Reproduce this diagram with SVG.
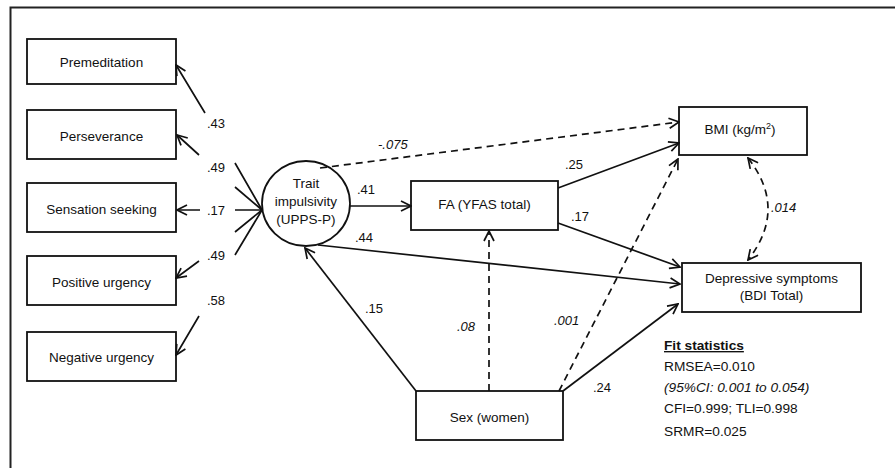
<svg xmlns="http://www.w3.org/2000/svg" width="895" height="468" viewBox="0 0 895 468">
<style>
.box{fill:#fff;stroke:#111;stroke-width:1.8}
.t{font-family:"Liberation Sans",Arial,sans-serif;font-size:13.5px;fill:#111;text-anchor:middle}
.l{font-family:"Liberation Sans",Arial,sans-serif;font-size:13px;fill:#111}
.f{font-family:"Liberation Sans",Arial,sans-serif;font-size:13.7px;fill:#111}
.i{font-style:italic}
.ln{fill:none;stroke:#111;stroke-width:1.7}
.d{stroke-dasharray:7 5}
.fr{fill:none;stroke:#222;stroke-width:2}
</style>
<defs>
<marker id="ah" viewBox="0 0 12 12" refX="11" refY="6" markerWidth="12" markerHeight="12" markerUnits="userSpaceOnUse" orient="auto-start-reverse">
<path d="M1,1 L11,6 L1,11" fill="none" stroke="#111" stroke-width="1.7" stroke-dasharray="none"/>
</marker>
</defs>
<path class="fr" d="M10.5,470 V7.5 H897"/>
<g id="premeditation"><rect class="box" x="27" y="39" width="149" height="45"/><text class="t" x="101.5" y="66.5">Premeditation</text></g>
<g id="perseverance"><rect class="box" x="27" y="110" width="149" height="49"/><text class="t" x="101.5" y="141">Perseverance</text></g>
<g id="sensation"><rect class="box" x="27" y="183" width="149" height="49"/><text class="t" x="101.5" y="214">Sensation seeking</text></g>
<g id="positive"><rect class="box" x="27" y="256" width="149" height="49"/><text class="t" x="101.5" y="287">Positive urgency</text></g>
<g id="negative"><rect class="box" x="27" y="332" width="149" height="49"/><text class="t" x="101.5" y="362">Negative urgency</text></g>
<g id="trait"><ellipse class="box" cx="306" cy="203.5" rx="44" ry="42.5"/><text class="t" x="306" y="188">Trait</text><text class="t" x="306" y="206">impulsivity</text><text class="t" x="306" y="224">(UPPS-P)</text></g>
<g id="fa"><rect class="box" x="411" y="181" width="147" height="49"/><text class="t" x="484.5" y="209">FA (YFAS total)</text></g>
<g id="bmi"><rect class="box" x="679" y="107" width="128" height="48"/><text class="t" x="740" y="134">BMI (kg/m<tspan font-size="9" dy="-5">2</tspan><tspan dy="5">)</tspan></text></g>
<g id="depressive"><rect class="box" x="682" y="263" width="179" height="49"/><text class="t" x="771.5" y="283">Depressive symptoms</text><text class="t" x="771.5" y="300">(BDI Total)</text></g>
<g id="sex"><rect class="box" x="416" y="391" width="147" height="49"/><text class="t" x="489.5" y="422">Sex (women)</text></g>
<g id="connectors">
<path class="ln" d="M262,210 L235,163 M205,113 L176,65" marker-end="url(#ah)"/>
<path class="ln" d="M262,210 L235,187 M199,155 L177,135" marker-end="url(#ah)"/>
<path class="ln" d="M262,210 L235,210 M200,210 L177,210" marker-end="url(#ah)"/>
<path class="ln" d="M262,210 L235,232 M199,261 L176,278" marker-end="url(#ah)"/>
<path class="ln" d="M262,210 L235,255 M199,316 L176,355" marker-end="url(#ah)"/>
<path class="ln" d="M350,206 L411,206" marker-end="url(#ah)"/>
<path class="ln d" d="M320,168 L679,122" marker-end="url(#ah)"/>
<path class="ln" d="M558,188 L679,143" marker-end="url(#ah)"/>
<path class="ln" d="M558,223 L680,267" marker-end="url(#ah)"/>
<path class="ln" d="M318,245 L680,284" marker-end="url(#ah)"/>
<path class="ln" d="M416,391 L305,248" marker-end="url(#ah)"/>
<path class="ln d" d="M489,391 L489,231" marker-end="url(#ah)"/>
<path class="ln d" d="M559,391 L678,159" marker-end="url(#ah)"/>
<path class="ln" d="M563,391 L678,304" marker-end="url(#ah)"/>
<path class="ln d" d="M748,158 Q788,209 748,260" marker-start="url(#ah)" marker-end="url(#ah)"/>
</g>
<g id="labels">
<text class="l" x="207" y="127.5">.43</text>
<text class="l" x="207" y="172">.49</text>
<text class="l" x="207" y="214.5">.17</text>
<text class="l" x="207" y="260">.49</text>
<text class="l" x="207" y="305">.58</text>
<text class="l" x="357" y="194">.41</text>
<text class="l" x="355" y="242">.44</text>
<text class="l i" x="378" y="149">-.075</text>
<text class="l" x="565" y="169">.25</text>
<text class="l" x="571" y="221">.17</text>
<text class="l" x="365" y="313">.15</text>
<text class="l i" x="457" y="331">.08</text>
<text class="l i" x="554" y="325">.001</text>
<text class="l" x="593" y="392">.24</text>
<text class="l i" x="771" y="212">.014</text>
</g>
<g id="fit">
<text class="f" x="664" y="350" font-weight="bold" text-decoration="underline">Fit statistics</text>
<text class="f" x="664" y="371">RMSEA=0.010</text>
<text class="f i" x="664" y="392">(95%CI: 0.001 to 0.054)</text>
<text class="f" x="664" y="413">CFI=0.999; TLI=0.998</text>
<text class="f" x="664" y="435.5">SRMR=0.025</text>
</g>
</svg>
